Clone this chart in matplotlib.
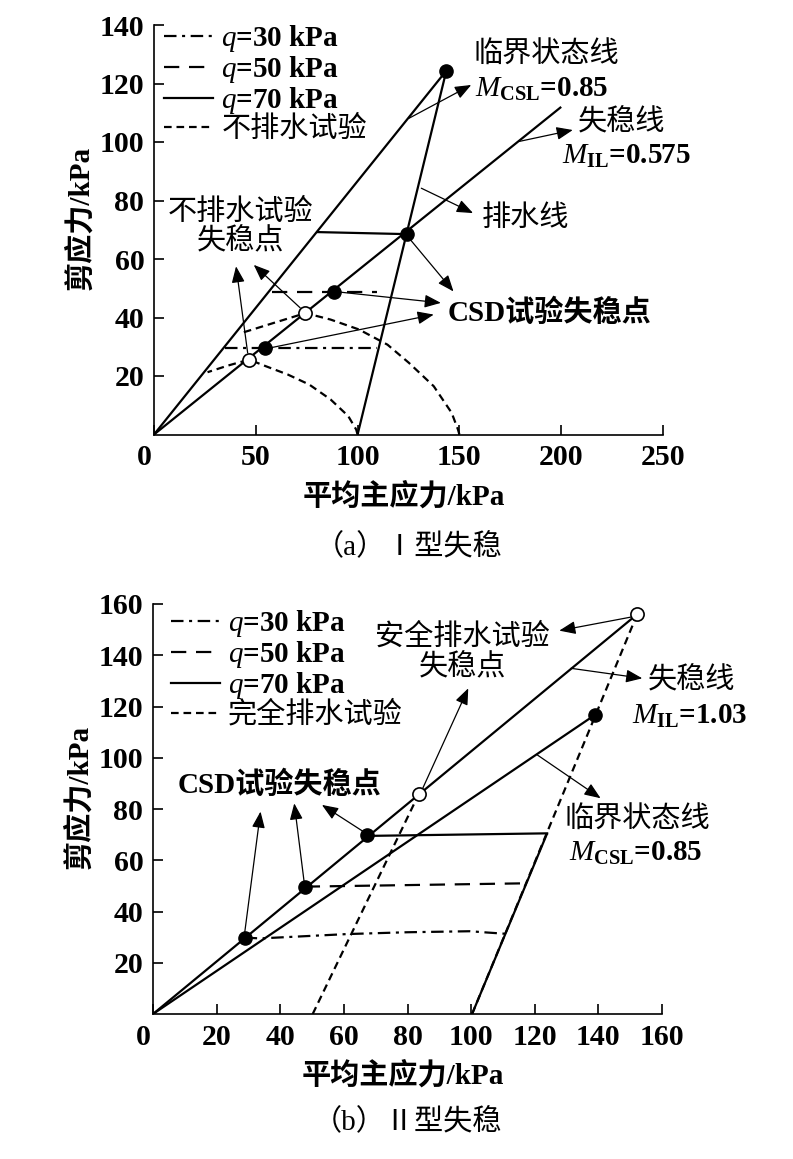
import matplotlib
matplotlib.use("Agg")
import matplotlib.pyplot as plt
import matplotlib.transforms as mtrans
from matplotlib.lines import Line2D

plt.rcParams['font.family'] = ['Liberation Serif', 'Noto Sans CJK SC', 'DejaVu Sans']
plt.rcParams['mathtext.fontset'] = 'custom'
plt.rcParams['mathtext.rm'] = 'Liberation Serif:bold'
plt.rcParams['mathtext.it'] = 'Liberation Serif:italic'
plt.rcParams['mathtext.bf'] = 'Liberation Serif:bold'
plt.rcParams['lines.scale_dashes'] = False

# ---------------- data: panel (a) ----------------
a_xticks = [0, 50, 100, 150, 200, 250]
a_yticks = [20, 40, 60, 80, 100, 120, 140]
a_csl_p = [0, 143.6]
a_csl_q = [0, 124.4]
a_il_p = [0, 200]
a_il_q = [0, 112]
a_drain_p = [100, 143.6]
a_drain_q = [0, 124.4]
a_q70_p = [80.5, 124.3]
a_q70_q = [69.2, 68.5]
a_q50_p = [57.8, 109.4]
a_q50_q = [48.6, 48.6]
a_q30_p = [35.0, 109.4]
a_q30_q = [29.6, 29.6]
a_und1_p = [100, 99.3, 95.4, 86.7, 76.2, 65.7, 55.1, 46.7, 36.5, 26.3]
a_und1_q = [0, 1.7, 6.3, 12.0, 17.1, 20.5, 23.3, 25.6, 23.6, 21.3]
a_und2_p = [150, 149.3, 146.2, 137.4, 125.2, 114.7, 100.7, 86.7, 74.4, 58.6, 42.9]
a_und2_q = [0, 1.7, 7.4, 16.5, 24.5, 30.7, 35.9, 39.3, 41.5, 38.1, 34.7]
a_csd_p = [54.3, 88.4, 124.3, 143.6]
a_csd_q = [29.6, 48.6, 68.5, 124.4]
a_und_pt_p = [46.7, 74.4]
a_und_pt_q = [25.6, 41.5]

# ---------------- data: panel (b) ----------------
b_xticks = [0, 20, 40, 60, 80, 100, 120, 140, 160]
b_yticks = [20, 40, 60, 80, 100, 120, 140, 160]
b_il_p = [0, 152.2]
b_il_q = [0, 156.0]
b_csl_p = [0, 138.9]
b_csl_q = [0, 116.7]
b_drain_p = [100.3, 123.9]
b_drain_q = [0, 70.5]
b_fd1_p = [50.2, 83.5]
b_fd1_q = [0, 85.7]
b_fd2_p = [100.3, 152.2]
b_fd2_q = [0, 156.0]
b_q70_p = [67.4, 123.9]
b_q70_q = [69.5, 70.5]
b_q50_p = [47.7, 117.1]
b_q50_q = [49.7, 51.0]
b_q30_p = [28.8, 33.8, 61.2, 79.8, 99.7, 105.0, 110.9]
b_q30_q = [29.8, 29.5, 31.2, 31.9, 32.3, 31.8, 31.3]
b_csd_p = [28.8, 47.7, 67.4, 138.9]
b_csd_q = [29.8, 49.7, 69.8, 116.7]
b_fd_pt_p = [83.5, 152.2]
b_fd_pt_q = [85.7, 156.0]

# annotation arrows (tail -> head) in data coordinates
a_arrows = [((125.2, 108.1), (155.8, 119.5)),
            ((179.4, 100.2), (205.7, 104.1)),
            ((131.3, 84.2), (156.7, 75.7)),
            ((46.0, 27.9), (40.3, 57.5)),
            ((71.8, 43.3), (49.0, 58.0)),
            ((125.2, 67.2), (147.1, 48.9)),
            ((91.0, 48.7), (140.9, 45.0)),
            ((56.9, 29.6), (137.4, 41.0))]
b_arrows = [((150.7, 155.0), (127.7, 149.6)),
            ((84.8, 88.1), (99.1, 127.1)),
            ((131.4, 134.9), (153.8, 131.0)),
            ((120.8, 101.1), (140.7, 84.2)),
            ((28.8, 31.5), (33.8, 79.0)),
            ((47.5, 51.6), (44.4, 82.2)),
            ((66.1, 71.2), (53.1, 81.6))]

LW = 1.6
DASHDOT = (0, (9, 4, 2.2, 4))
LDASH = (0, (11, 7))
SDASH = (0, (5.5, 3.5))
FS = 21
TFS = 21.5
FAM = ['Liberation Serif', 'Noto Sans CJK SC', 'DejaVu Sans']

fig = plt.figure(figsize=(7.93, 11.59), dpi=100)
axa = fig.add_axes([154/793, 1-434.5/1159, 509/793, 409.5/1159])
axb = fig.add_axes([153/793, 1-1014/1159, 509/793, 410/1159])


def style_axes(ax, xt, yt, xmax, ymax):
    ax.set_xlim(0, xmax)
    ax.set_ylim(0, ymax)
    for s in ['top', 'right']:
        ax.spines[s].set_visible(False)
    for s in ['left', 'bottom']:
        ax.spines[s].set_linewidth(1.2)
    ax.set_xticks(xt)
    ax.set_yticks(yt)
    ax.tick_params(direction='in', length=7, width=1.2, pad=7, labelsize=TFS)
    for lab in ax.get_xticklabels() + ax.get_yticklabels():
        lab.set_fontweight('bold')
        lab.set_family(FAM)
    lab0 = ax.get_xticklabels()[0]
    lab0.set_transform(lab0.get_transform() +
                       mtrans.ScaledTranslation(-0.10, 0, fig.dpi_scale_trans))
    ax.set_xlabel('平均主应力/kPa', fontsize=FS, fontweight='bold', family=FAM, va='center')
    ax.xaxis.set_label_coords(0.49, -0.15)
    ax.set_ylabel('剪应力/kPa', fontsize=FS, fontweight='bold', family=FAM, va='center')
    ax.yaxis.set_label_coords(-0.145, 0.53)


def arrows(ax, lst):
    for tail, head in lst:
        ax.annotate('', xy=head, xytext=tail,
                    arrowprops=dict(arrowstyle='-|>,head_length=0.55,head_width=0.22',
                                    lw=0.9, color='k',
                                    mutation_scale=18, shrinkA=0, shrinkB=0),
                    annotation_clip=False)


def txt(ax, x, y, s, ha='left', weight='normal'):
    ax.text(x, y, s, fontsize=FS, ha=ha, va='center', family=FAM,
            fontweight=weight, clip_on=False)


def make_legend(ax, labels, anchor):
    handles = [Line2D([], [], color='k', ls=DASHDOT, lw=LW),
               Line2D([], [], color='k', ls=LDASH, lw=LW),
               Line2D([], [], color='k', ls='-', lw=LW),
               Line2D([], [], color='k', ls=SDASH, lw=LW)]
    leg = ax.legend(handles, labels, loc='upper left', bbox_to_anchor=anchor,
                    frameon=False, handlelength=1.68, handletextpad=0.28,
                    labelspacing=0.0, borderpad=0, borderaxespad=0,
                    prop=dict(family=FAM, size=FS, weight='bold'))
    leg.get_texts()[3].set_fontweight('normal')
    return leg


# ---------------- panel (a) ----------------
ax = axa
style_axes(ax, a_xticks, a_yticks, 250, 140)
ax.plot(a_csl_p, a_csl_q, 'k-', lw=LW, solid_capstyle='butt')
ax.plot(a_il_p, a_il_q, 'k-', lw=LW, solid_capstyle='butt')
ax.plot(a_drain_p, a_drain_q, 'k-', lw=LW, solid_capstyle='butt')
ax.plot(a_q70_p, a_q70_q, 'k-', lw=LW)
ax.plot(a_q50_p, a_q50_q, color='k', ls=LDASH, lw=LW)
ax.plot(a_q30_p, a_q30_q, color='k', ls=DASHDOT, lw=LW)
ax.plot(a_und1_p, a_und1_q, color='k', ls=SDASH, lw=LW)
ax.plot(a_und2_p, a_und2_q, color='k', ls=SDASH, lw=LW)
arrows(ax, a_arrows)
ax.plot(a_csd_p, a_csd_q, 'o', ms=9.5, mfc='k', mec='k', zorder=5, clip_on=False)
ax.plot(a_und_pt_p, a_und_pt_q, 'o', ms=9.5, mfc='white', mec='k', mew=1.2, zorder=5)
txt(ax, 156.7, 129.6, '临界状态线')
txt(ax, 157.6, 118.0, r'$M_{\mathrm{CSL}}$=0.85', weight='bold')
txt(ax, 208.3, 106.6, '失稳线')
txt(ax, 200.5, 95.2, r'$M_{\mathrm{IL}}$=0.575', weight='bold')
txt(ax, 161.0, 73.8, '排水线')
txt(ax, 42.4, 76.0, '不排水试验', ha='center')
txt(ax, 42.4, 65.8, '失稳点', ha='center')
txt(ax, 144.4, 41.6, 'CSD试验失稳点', weight='bold')
make_legend(ax, [r'$q$=30 kPa', r'$q$=50 kPa', r'$q$=70 kPa', '不排水试验'], (0.02, 1.005))

# ---------------- panel (b) ----------------
ax = axb
style_axes(ax, b_xticks, b_yticks, 160, 160)
ax.plot(b_il_p, b_il_q, 'k-', lw=LW, solid_capstyle='butt')
ax.plot(b_csl_p, b_csl_q, 'k-', lw=LW, solid_capstyle='butt')
ax.plot(b_drain_p, b_drain_q, 'k-', lw=LW, solid_capstyle='butt')
ax.plot(b_fd1_p, b_fd1_q, color='k', ls=SDASH, lw=LW)
ax.plot(b_fd2_p, b_fd2_q, color='k', ls=SDASH, lw=LW)
ax.plot(b_q70_p, b_q70_q, 'k-', lw=LW)
ax.plot(b_q50_p, b_q50_q, color='k', ls=LDASH, lw=LW)
ax.plot(b_q30_p, b_q30_q, color='k', ls=DASHDOT, lw=LW)
arrows(ax, b_arrows)
ax.plot(b_csd_p, b_csd_q, 'o', ms=9.5, mfc='k', mec='k', zorder=5)
ax.plot(b_fd_pt_p, b_fd_pt_q, 'o', ms=9.5, mfc='white', mec='k', mew=1.2, zorder=5,
        clip_on=False)
txt(ax, 97.2, 147.0, '安全排水试验', ha='center')
txt(ax, 97.2, 135.3, '失稳点', ha='center')
txt(ax, 155.6, 130.1, '失稳线')
txt(ax, 150.7, 116.3, r'$M_{\mathrm{IL}}$=1.03', weight='bold')
txt(ax, 129.5, 75.8, '临界状态线')
txt(ax, 130.8, 62.7, r'$M_{\mathrm{CSL}}$=0.85', weight='bold')
txt(ax, 39.7, 89.5, 'CSD试验失稳点', ha='center', weight='bold')
make_legend(ax, [r'$q$=30 kPa', r'$q$=50 kPa', r'$q$=70 kPa', '完全排水试验'], (0.035, 0.99))

fig.text(408.5/793, 1-547/1159, '（a）Ⅰ型失稳', fontsize=FS, ha='center', va='center', family=FAM)
fig.text(407.5/793, 1-1122.7/1159, '（b）Ⅱ型失稳', fontsize=FS, ha='center', va='center', family=FAM)

fig.savefig('out.png', dpi=100)
